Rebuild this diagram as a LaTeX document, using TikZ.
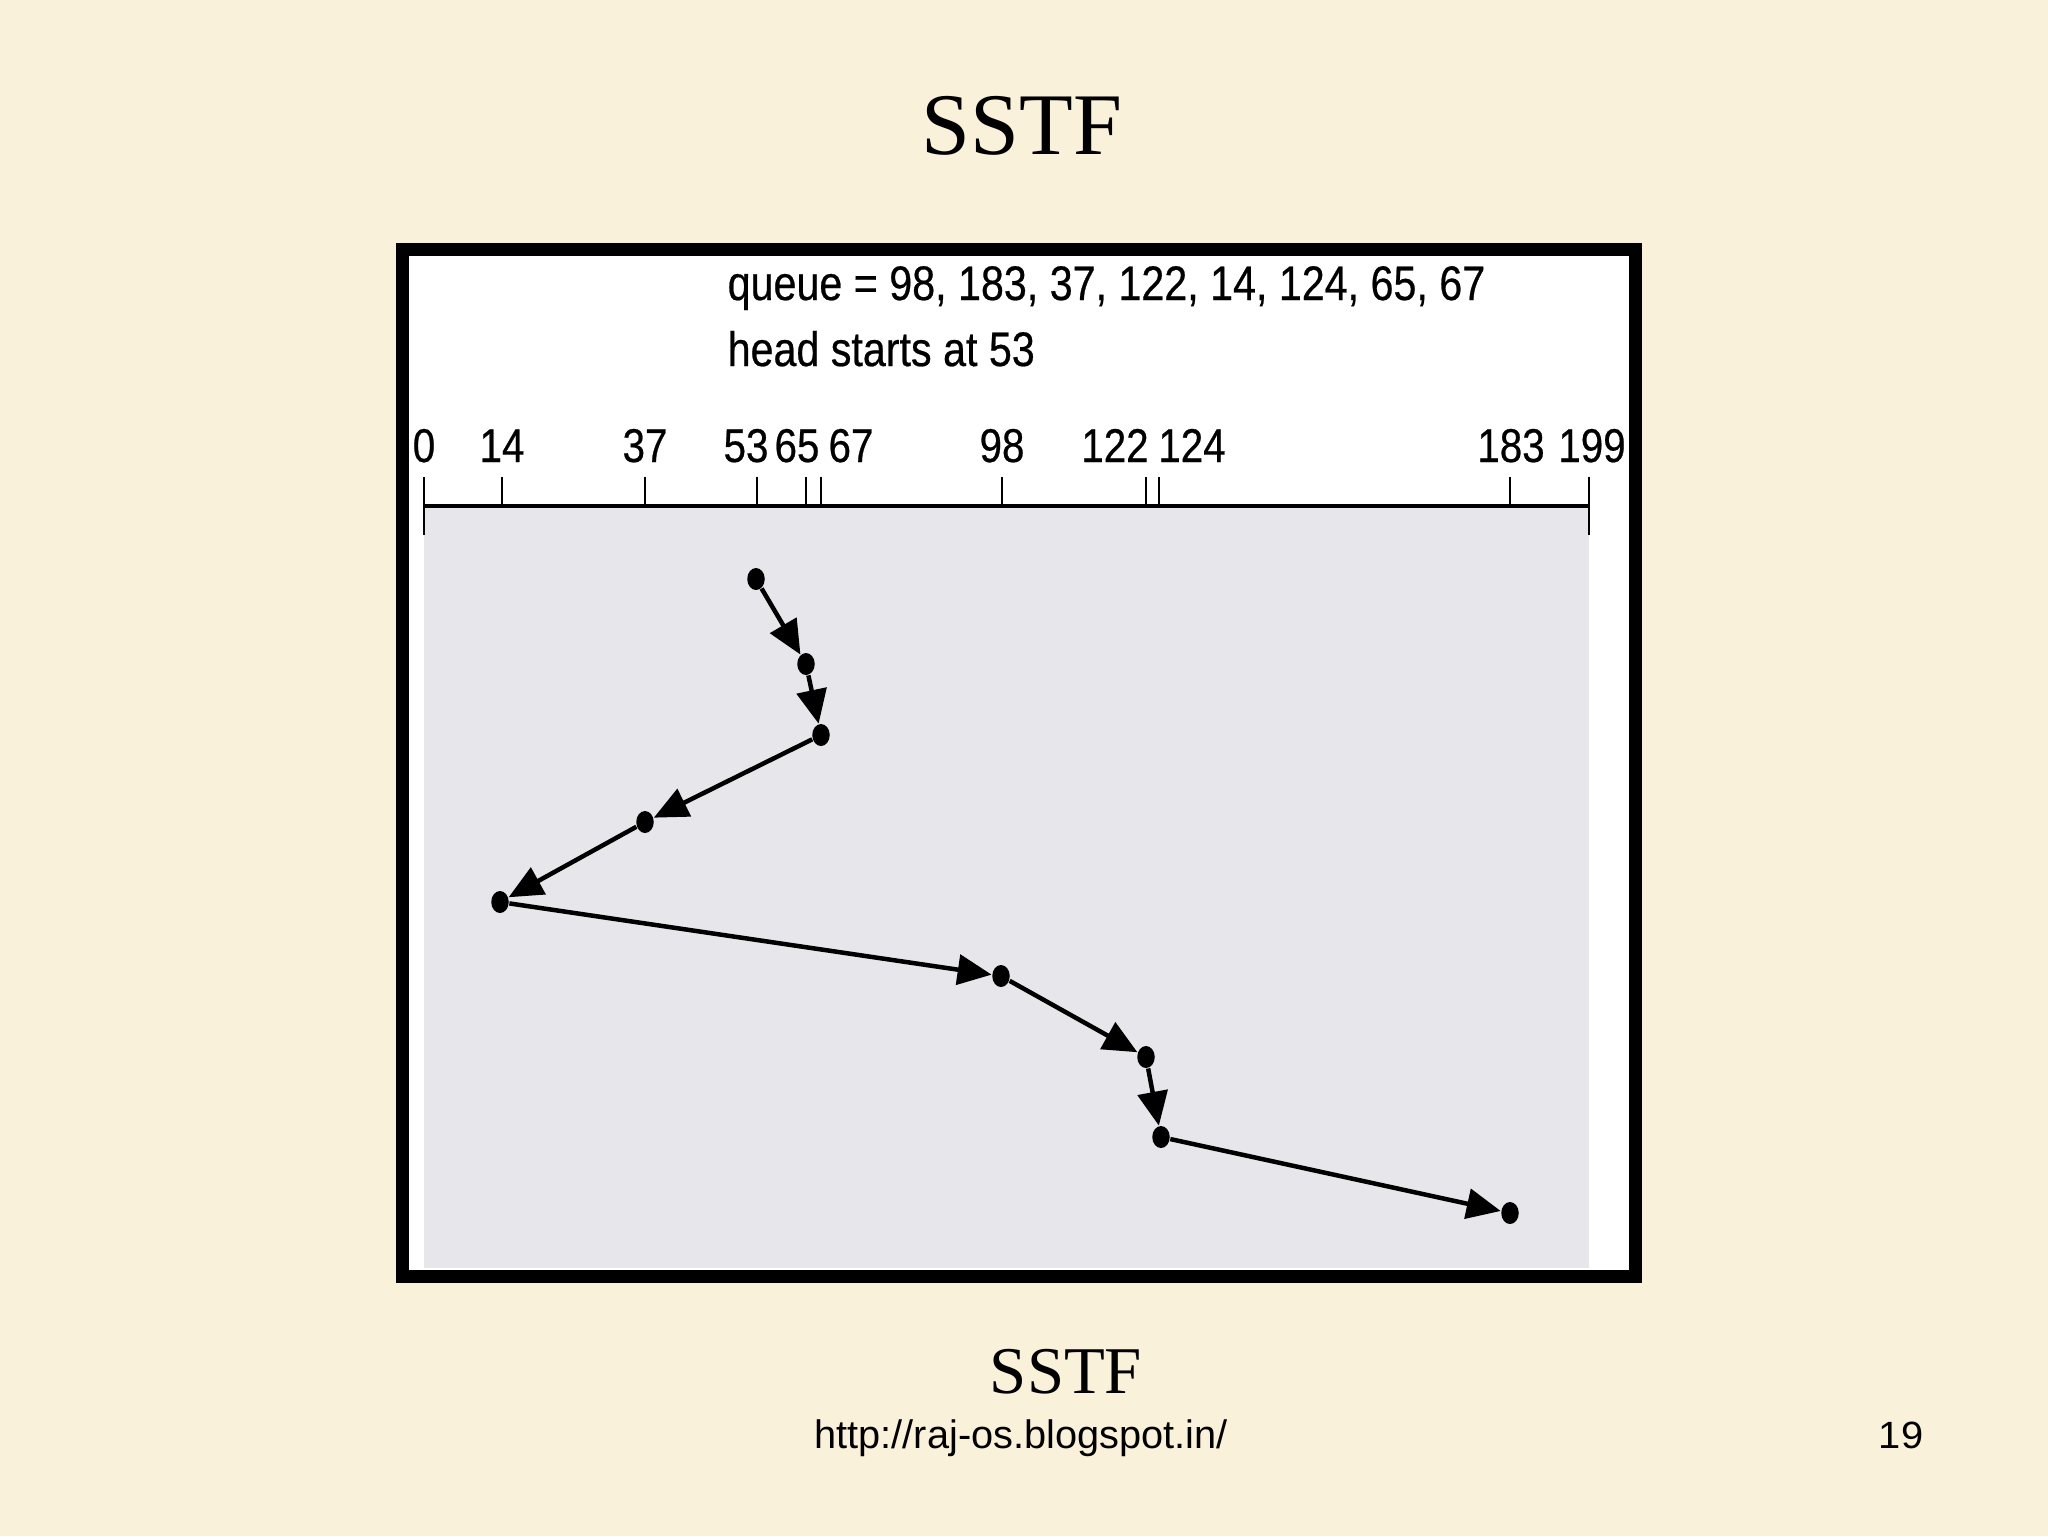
\documentclass[tikz,border=0pt]{standalone}
\usepackage{fontspec}
\setmainfont{Liberation Serif}
\newfontfamily\figfont[FakeStretch=0.85, FakeBold=0.5]{Liberation Sans}
\newfontfamily\notefont{Liberation Sans}
\newfontfamily\pagefont[FakeStretch=1.05]{Liberation Sans}
\usepackage{xcolor}
\usepackage{tikz}
\usetikzlibrary{positioning, shapes.geometric}
\usetikzlibrary{arrows.meta}
\definecolor{paper}{RGB}{250,241,218}
\definecolor{track}{RGB}{231,230,234}

\begin{document}
\begin{tikzpicture}[x=0.1mm, y=-0.1mm]
            \tikzset{dot/.style = {ellipse, fill=black, inner sep=0pt, minimum width=1.75mm, minimum height=2.2mm}}
            \tikzset{seek/.style = {-{Triangle[length=3.4mm,width=3mm]}, line width=0.45mm}}
            \tikzset{lbl/.style = {inner sep=0pt, anchor=base, font=\figfont\fontsize{13.5}{16}\selectfont}}
            \tikzset{note/.style = {inner sep=0pt, font=\notefont\fontsize{11.3}{13}\selectfont}}

            \useasboundingbox (0,0) rectangle (2048,1536);
            \fill[paper] (0,0) rectangle (2048,1536);

            % slide titles
            \node[inner sep=0pt, anchor=base, font=\fontsize{25}{30}\selectfont] (title) at (1022,154) {SSTF};
            \node[inner sep=0pt, anchor=base, font=\fontsize{19}{23}\selectfont] (caption) at (1066,1393) {SSTF};
            \node[note, anchor=base] (url) at (1021,1448) {http://raj-os.blogspot.in/};
            \node[note, anchor=base east, font=\pagefont\fontsize{10.8}{13}\selectfont] (page) at (1924,1448) {19};

            % frame and cylinder band
            \filldraw[fill=white, line width=1.3mm] (402,249) rectangle (1635,1276);
            \fill[track] (424,506) rectangle (1589,1268);

            \node[lbl, anchor=base west, font=\figfont\fontsize{13.8}{16}\selectfont] (queue) at (727,300) {queue = 98, 183, 37, 122, 14, 124, 65, 67};
            \node[lbl, anchor=base west, font=\figfont\fontsize{13.8}{16}\selectfont] (head) at (727,366) {head starts at 53};

            % axis
            \draw[line width=0.37mm] (424,506) -- (1589,506);
            \draw[line width=0.2mm] (424,477) -- (424,535);
            \draw[line width=0.2mm] (1589,477) -- (1589,535);
            \foreach \v/\tx/\lx in {0/424/424, 14/502/502, 37/645/645, 53/757/746, 65/806/797, 67/821/851,
                                    98/1002/1002, 122/1146/1115, 124/1159/1192, 183/1510/1511, 199/1589/1592} {
                \draw[line width=0.2mm] (\tx,477) -- (\tx,506);
                \node[lbl] (n\v) at (\lx,462) {\v};
            }

            % head positions
            \foreach \v/\px/\py in {53/756/579, 65/806/664, 67/821/735, 37/645/822, 14/500/902,
                                    98/1001/976, 122/1146/1057, 124/1161/1137, 183/1510/1213}
                \node[dot] (d\v) at (\px,\py) {};

            % seeks
            \foreach \a/\b in {53/65, 65/67, 67/37, 37/14, 14/98, 98/122, 122/124, 124/183}
                \draw[seek] (d\a) -- (d\b);

\end{tikzpicture}
\end{document}
